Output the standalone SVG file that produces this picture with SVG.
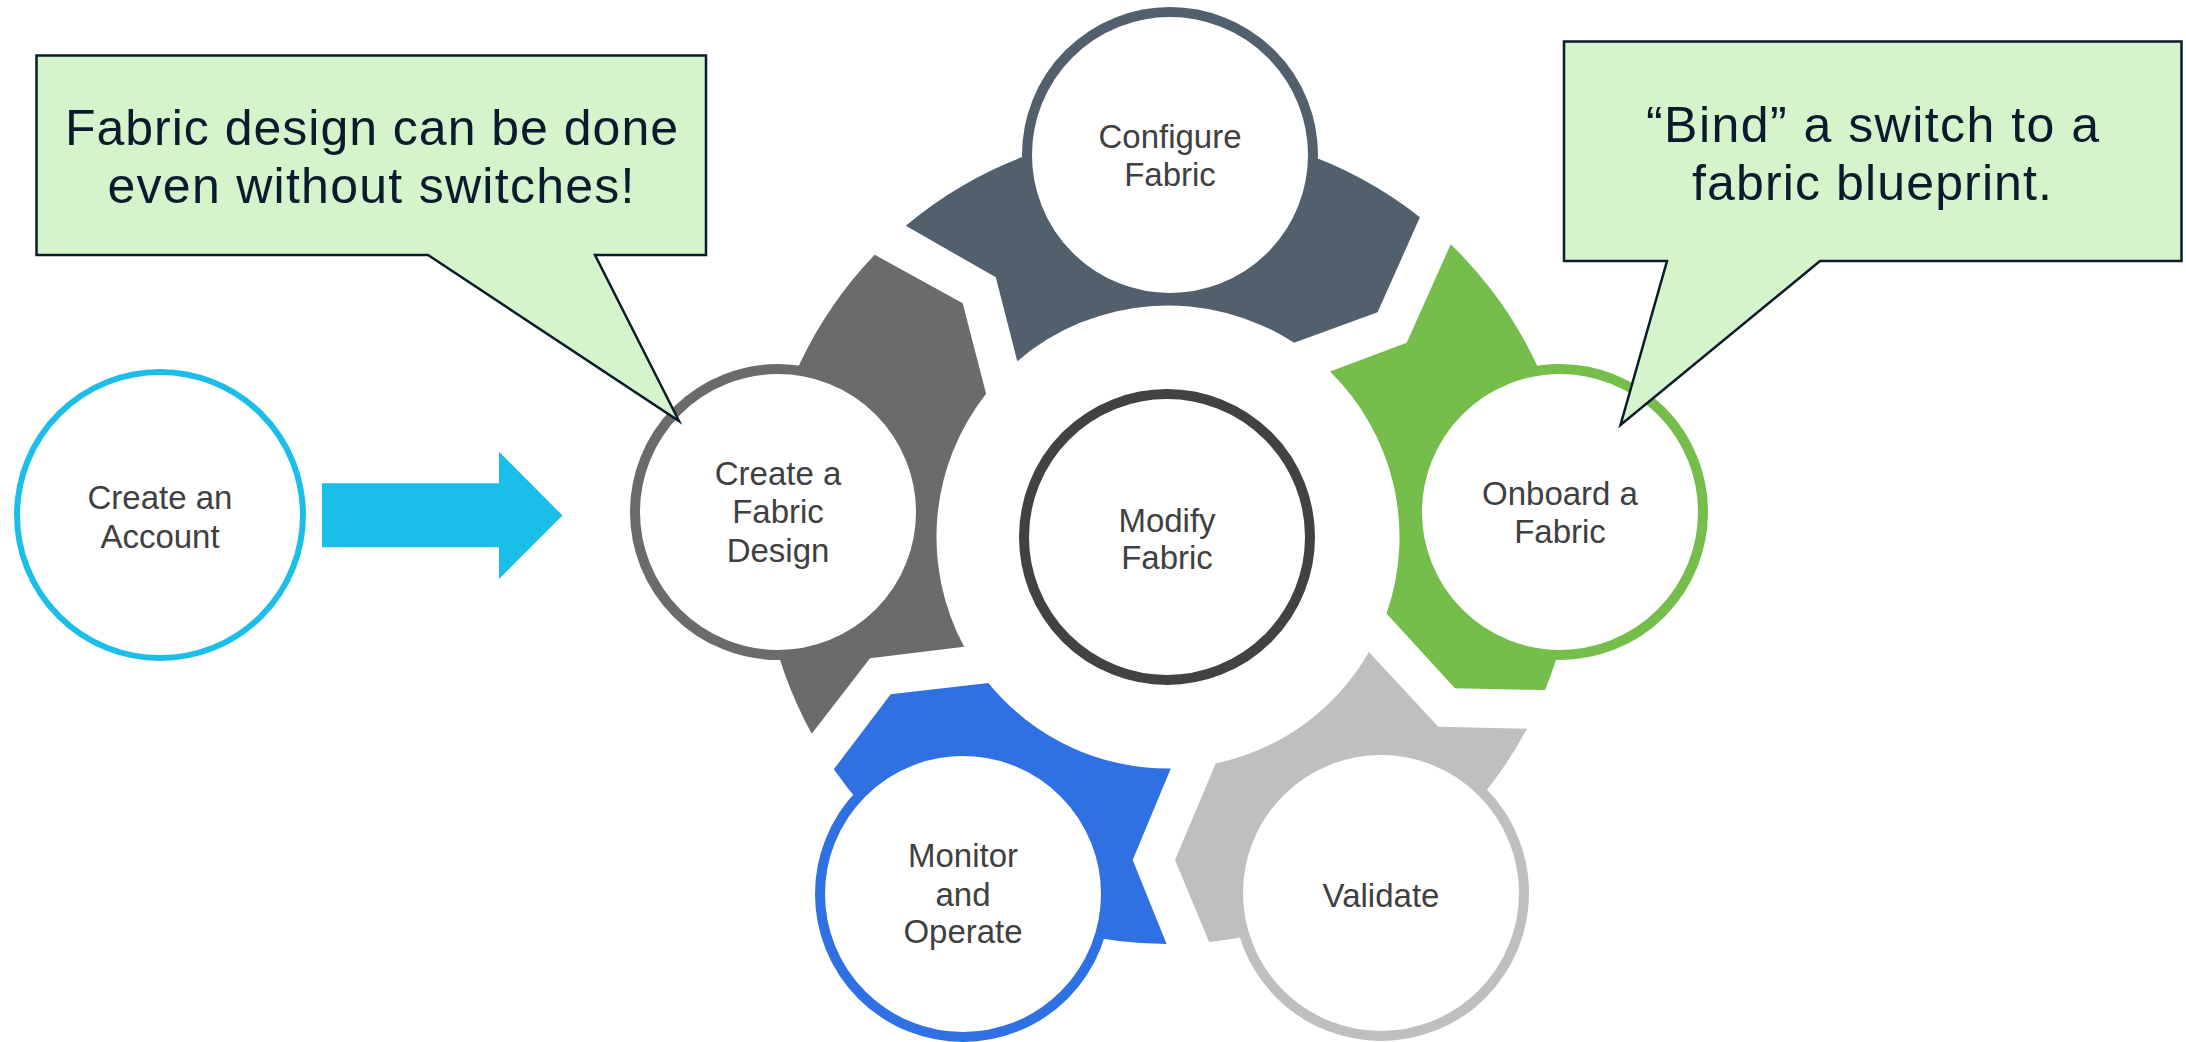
<svg xmlns="http://www.w3.org/2000/svg" width="2186" height="1042" viewBox="0 0 2186 1042">
<style>
.bg{fill:#ffffff}
.node{fill:#ffffff;stroke-width:10}
.lbl{font-family:"Liberation Sans",Arial,sans-serif;font-size:33px;fill:#404040;text-anchor:middle}
.call{font-family:"Liberation Sans",Arial,sans-serif;font-size:50px;fill:#0B1A2C;text-anchor:middle}
.bubble{fill:#D5F4CC;stroke:#0B1A2C;stroke-width:2.5;stroke-linejoin:miter}
</style>
<rect class="bg" x="0" y="0" width="2186" height="1042"/>
<g id="connectors">
  <path id="arrow-start" fill="#1BBEE8" d="M322 483.3 H499 V451.7 L562.5 515.5 L499 579 V547.3 H322 Z"/>
  <path id="seg-create" fill="#6B6B6B" d="M811.7 733.7 A407 407 0 0 1 874.7 254.8 L962.7 303.3 L986.1 393.8 A231.5 231.5 0 0 0 964.2 646.8 L870 658.3 Z"/>
  <path id="seg-configure" fill="#525F6D" d="M905.8 225.7 A407 407 0 0 1 1419.9 217.3 L1377.6 312.3 L1294.1 342.8 A231.5 231.5 0 0 0 1017.3 361.2 L995.8 277.3 Z"/>
  <path id="seg-onboard" fill="#75BE4B" d="M1450.7 244.2 A407 407 0 0 1 1545.1 690.1 L1455 688.3 L1386.5 613.5 A231.5 231.5 0 0 0 1330 371.6 L1406.7 342.7 Z"/>
  <path id="seg-validate" fill="#BFBFBF" d="M1527 728.7 A407 407 0 0 1 1209.1 941.9 L1175 860 L1215.7 763.5 A231.5 231.5 0 0 0 1368.9 652.1 L1438.3 726.7 Z"/>
  <path id="seg-monitor" fill="#2F71E3" d="M1166.6 944 A407 407 0 0 1 833.8 769.3 L890.7 694.3 L988.4 683 A231.5 231.5 0 0 0 1170.8 768.5 L1132.7 860 Z"/>
</g>
<g id="node-account">
  <circle class="node" cx="160" cy="515" r="143" stroke="#1BBEE8" style="stroke-width:6"/>
  <text class="lbl" x="160" y="509">Create an</text>
  <text class="lbl" x="160" y="547.5">Account</text>
</g>
<g id="node-create">
  <circle class="node" cx="778" cy="512" r="143" stroke="#6B6B6B"/>
  <text class="lbl" x="778" y="485">Create a</text>
  <text class="lbl" x="778" y="523.3">Fabric</text>
  <text class="lbl" x="778" y="561.7">Design</text>
</g>
<g id="node-configure">
  <circle class="node" cx="1170" cy="155" r="143" stroke="#525F6D"/>
  <text class="lbl" x="1170" y="148.3">Configure</text>
  <text class="lbl" x="1170" y="185.7">Fabric</text>
</g>
<g id="node-onboard">
  <circle class="node" cx="1560" cy="512" r="143" stroke="#75BE4B"/>
  <text class="lbl" x="1560" y="505">Onboard a</text>
  <text class="lbl" x="1560" y="543.3">Fabric</text>
</g>
<g id="node-validate">
  <circle class="node" cx="1381" cy="893" r="143" stroke="#BFBFBF"/>
  <text class="lbl" x="1381" y="906.7">Validate</text>
</g>
<g id="node-monitor">
  <circle class="node" cx="963" cy="894" r="143" stroke="#2F71E3"/>
  <text class="lbl" x="963" y="867.3">Monitor</text>
  <text class="lbl" x="963" y="906">and</text>
  <text class="lbl" x="963" y="943.3">Operate</text>
</g>
<g id="node-modify">
  <circle class="node" cx="1167" cy="537" r="143" stroke="#414244"/>
  <text class="lbl" x="1167" y="531.7">Modify</text>
  <text class="lbl" x="1167" y="569.3">Fabric</text>
</g>
<g id="callout-design">
  <path class="bubble" d="M36.5 55.5 H706 V255 H595 L679 421 L428 255 H36.5 Z"/>
  <text class="call" x="371.5" y="145" textLength="613" lengthAdjust="spacing">Fabric design can be done</text>
  <text class="call" x="371" y="203" textLength="527" lengthAdjust="spacing">even without switches!</text>
</g>
<g id="callout-bind">
  <path class="bubble" d="M1564 41.5 H2181.5 V261 H1820 L1620.5 425 L1667 261 H1564 Z"/>
  <text class="call" x="1872.5" y="142" textLength="453" lengthAdjust="spacing">“Bind” a switch to a</text>
  <text class="call" x="1872" y="200" textLength="360" lengthAdjust="spacing">fabric blueprint.</text>
</g>
</svg>
